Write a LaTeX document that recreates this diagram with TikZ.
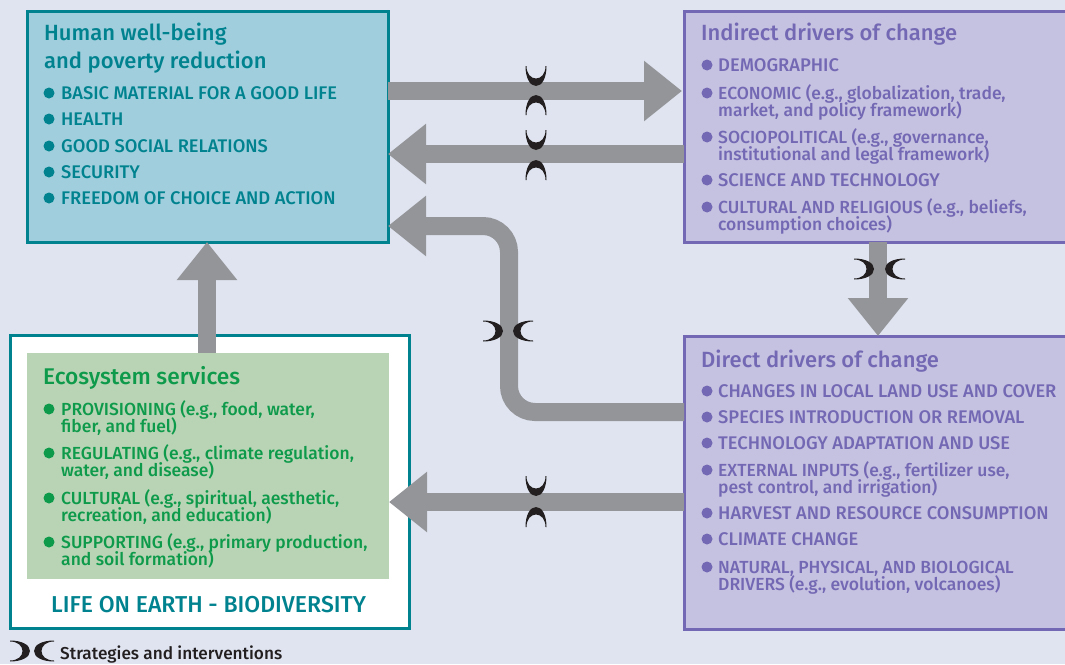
\documentclass[tikz,border=0pt]{standalone}
\usepackage{fontspec}
\setmainfont[BoldFont={Fira Sans Medium}]{Fira Sans}
\usetikzlibrary{arrows.meta}
\definecolor{pagebg}{HTML}{DFE4F0}
\definecolor{tealc}{HTML}{00828F}
\definecolor{tealfill}{HTML}{A0CEDC}
\definecolor{purplec}{HTML}{7368B3}
\definecolor{purplefill}{HTML}{C5C1E0}
\definecolor{greenc}{HTML}{0E9A4B}
\definecolor{greenfill}{HTML}{B9D4B4}
\definecolor{flowgray}{HTML}{949599}
\definecolor{inkc}{HTML}{231F20}
\newcommand{\tightlines}{\lineskiplimit=-100pt\relax}
\tikzstyle{panel}=[draw,line width=3pt,inner sep=0pt,outer sep=0pt,anchor=north west]
\tikzstyle{flow}=[draw=flowgray,line width=18pt,-{Triangle[length=38pt,width=58pt]}]
\tikzstyle{heading}=[anchor=base west,inner sep=0pt,align=left,font=\fontsize{22}{28}\selectfont\bfseries]
\tikzstyle{entry}=[anchor=base west,inner sep=0pt,align=left,font=\fontsize{17.5}{17}\selectfont\bfseries\tightlines]
\tikzstyle{capsentry}=[entry,font=\fontsize{18.3}{17}\selectfont\bfseries]
\tikzset{crescent/.pic={
    \fill[inkc] (-10.5,-10) .. controls (-10.5,2) and (-6,10) .. (0,10)
        .. controls (6,10) and (10.5,2) .. (10.5,-10) -- (9.5,-10)
        .. controls (9.5,-2) and (5,2.5) .. (0,2.5)
        .. controls (-5,2.5) and (-9.5,-2) .. (-9.5,-10) -- cycle;
}}
\begin{document}
\begin{tikzpicture}[x=1pt,y=-1pt]
    \fill[pagebg] (0,0) rectangle (1065,664);
    \useasboundingbox (0,0) rectangle (1065,664);
    % boxes
    \node[panel,draw=tealc,fill=tealfill,minimum width=361pt,minimum height=231pt] (wellbeing) at (27,11) {};
    \node[panel,draw=purplec,fill=purplefill,minimum width=385pt,minimum height=231pt] (indirect) at (684,11) {};
    \node[panel,draw=purplec,fill=purplefill,minimum width=385pt,minimum height=293pt] (direct) at (684,336) {};
    \node[panel,draw=tealc,fill=white,minimum width=399pt,minimum height=293pt] (life) at (10,335) {};
    \node[panel,draw=none,fill=greenfill,minimum width=362pt,minimum height=226pt] (services) at (27,353) {};
    % arrows
    \draw[flow,shorten >=2pt] (wellbeing.east |- 0,91) -- (indirect.west |- 0,91);
    \draw[flow] (indirect.west |- 0,154) -- (wellbeing.east |- 0,154);
    \draw[flow] (indirect.south -| 878,0) -- (direct.north -| 878,0);
    \draw[flow] (services.north -| 207,0) -- (wellbeing.south -| 207,0);
    \draw[flow,rounded corners=26pt] (direct.west |- 0,412) -- (509,412) -- (509,226) -- (wellbeing.east |- 0,226);
    \draw[flow] (direct.west |- 0,502) -- (services.east |- 0,502);
    % strategies and interventions
    \foreach \y in {76,140,486}
        \pic at (536,\y) {crescent};
    \foreach \y in {105,170,517}
        \pic[rotate=180] at (536,\y) {crescent};
    \foreach \x/\y in {493/331,864/269,20/651}
        \pic[rotate=90] at (\x,\y) {crescent};
    \foreach \x/\y in {523/331,895/269,44/651}
        \pic[rotate=-90] at (\x,\y) {crescent};
    % texts
    \node[heading,text=tealc] (wellbeingtitle) at (44,68) {Human well-being\\and poverty reduction};
    \node[heading,text=purplec] (indirecttitle) at (701,40) {Indirect drivers of change};
    \node[heading,text=purplec] (directtitle) at (701,367) {Direct drivers of change};
    \node[heading,text=greenc,font=\fontsize{22.7}{28}\selectfont\bfseries] (servicestitle) at (43,384) {Ecosystem services};
    \node[heading,text=tealc,font=\fontsize{23}{28}\selectfont\bfseries] (lifetitle) at (51,612) {LIFE ON EARTH - BIODIVERSITY};
    \node[anchor=base west,inner sep=0pt,text=inkc,font=\fontsize{17.2}{17}\selectfont\bfseries] (legend) at (60,659) {Strategies and interventions};
    \foreach \b/\y/\t in {93/99/BASIC MATERIAL FOR A GOOD LIFE,119/125/HEALTH,146/152/GOOD SOCIAL RELATIONS,172/178/SECURITY,198/204/FREEDOM OF CHOICE AND ACTION}{
        \fill[tealc] (49,\b) circle (5.5);
        \node[capsentry,text=tealc] at (61,\y) {\t};
    }
    \foreach \b/\y/\t in {65/71/DEMOGRAPHIC,180/186/SCIENCE AND TECHNOLOGY,391/397/CHANGES IN LOCAL LAND USE AND COVER,417/423/SPECIES INTRODUCTION OR REMOVAL,443/449/TECHNOLOGY ADAPTATION AND USE,513/519/HARVEST AND RESOURCE CONSUMPTION,539/545/CLIMATE CHANGE}{
        \fill[purplec] (707,\b) circle (5.5);
        \node[capsentry,text=purplec] at (718,\y) {\t};
    }
    \foreach \b/\y/\t in {93/116/{ECONOMIC (e.g., globalization, trade,\\market, and policy framework)},137/160/{SOCIOPOLITICAL (e.g., governance,\\institutional and legal framework)},207/230/{CULTURAL AND RELIGIOUS (e.g., beliefs,\\consumption choices)},470/493/{EXTERNAL INPUTS (e.g., fertilizer use,\\pest control, and irrigation)},567/590/{NATURAL, PHYSICAL, AND BIOLOGICAL\\DRIVERS (e.g., evolution, volcanoes)}}{
        \fill[purplec] (707,\b) circle (5.5);
        \node[entry,text=purplec] at (718,\y) {\t};
    }
    \foreach \b/\y/\t in {409/432/{PROVISIONING (e.g., food, water,\\fiber, and fuel)},453/476/{REGULATING (e.g., climate regulation,\\water, and disease)},498/521/{CULTURAL (e.g., spiritual, aesthetic,\\recreation, and education)},542/565/{SUPPORTING (e.g., primary production,\\and soil formation)}}{
        \fill[greenc] (49,\b) circle (5.5);
        \node[entry,text=greenc] at (61,\y) {\t};
    }
\end{tikzpicture}
\end{document}
